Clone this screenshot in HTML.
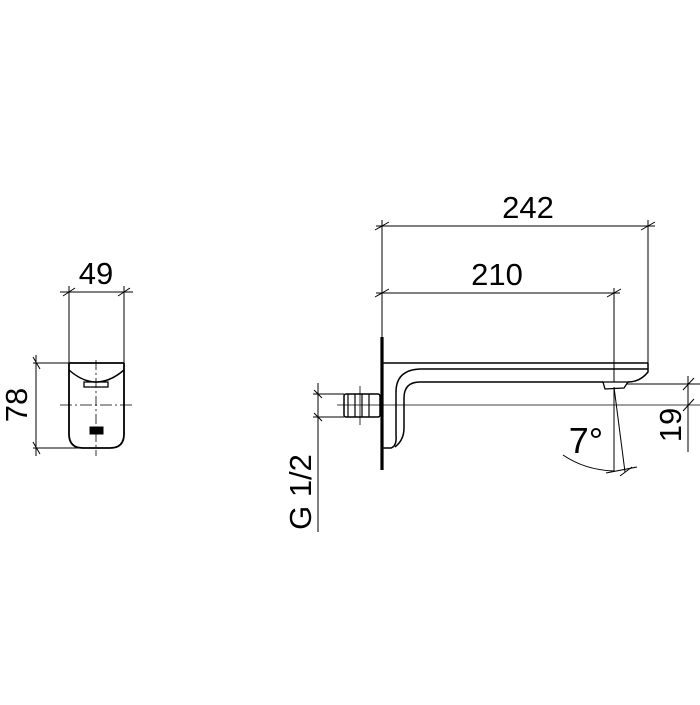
<!DOCTYPE html>
<html><head><style>body{margin:0;background:#fff}</style></head><body>
<svg width="700" height="700" viewBox="0 0 700 700" xmlns="http://www.w3.org/2000/svg" font-family="Liberation Sans, sans-serif">
<g stroke="#000" fill="none" stroke-width="1">
<line x1="60" y1="292" x2="133" y2="292"/>
<line x1="69" y1="286" x2="69" y2="363"/>
<line x1="124" y1="286" x2="124" y2="363"/>
<line x1="63" y1="296" x2="75" y2="288"/><line x1="118" y1="296" x2="130" y2="288"/>
<line x1="33" y1="363" x2="124" y2="363"/>
<line x1="33" y1="448" x2="96" y2="448"/>
<line x1="36" y1="355" x2="36" y2="456"/>
<line x1="33" y1="357" x2="40" y2="369"/><line x1="33" y1="442" x2="40" y2="454"/>
<path d="M69 363 V434 Q69 448 83 448 H110 Q124 448 124 434 V363" stroke-width="1.8"/>
<path d="M69 370 Q96 394 124 370" stroke-width="1.5"/>
<line x1="69" y1="363" x2="124" y2="363" stroke-width="1.8"/>
<rect x="84" y="382" width="24" height="5" stroke-width="1.3"/>
<rect x="90" y="427" width="13" height="7" fill="#000"/>
<line x1="96" y1="360" x2="96" y2="456" stroke-dasharray="10 3 2 3" stroke-width="0.8"/>
<line x1="60" y1="405" x2="133" y2="405" stroke-dasharray="12 3 2 3" stroke-width="0.8"/>
<line x1="376" y1="226" x2="655" y2="226"/>
<line x1="382" y1="220" x2="382" y2="337"/>
<line x1="648" y1="220" x2="648" y2="363"/>
<line x1="375" y1="230" x2="389" y2="222"/><line x1="641" y1="230" x2="655" y2="222"/>
<line x1="376" y1="293" x2="620" y2="293"/>
<line x1="375" y1="297" x2="389" y2="289"/><line x1="607" y1="297" x2="621" y2="289"/>
<line x1="614" y1="288" x2="614" y2="472"/>
<line x1="382" y1="337" x2="382" y2="470" stroke-width="3.2"/>
<line x1="383" y1="363" x2="648" y2="363" stroke-width="1.5"/>
<path d="M648 363 V372 Q640 382 628 382" stroke-width="1.5"/>
<path d="M383 448 H391 Q397 446 396 435 V392 Q396 370 420 369 H648" stroke-width="1.5"/>
<path d="M395 447 Q404 440 404 428 V398 Q404 382 420 382 H603" stroke-width="1.5"/>
<path d="M603 382 L628 382 L624 388 L605 389 Z" stroke-width="1.3" fill="#fff"/>
<rect x="344" y="394" width="36" height="23" rx="2" stroke-width="1.5"/>
<line x1="348" y1="394" x2="348" y2="417" stroke-width="1.2"/>
<line x1="355" y1="394" x2="355" y2="417" stroke-width="1.2"/>
<line x1="362" y1="394" x2="362" y2="417" stroke-width="1.2"/>
<line x1="369" y1="394" x2="369" y2="417" stroke-width="1.2"/>
<line x1="337" y1="405" x2="700" y2="405" stroke-width="0.8"/>
<line x1="360" y1="386" x2="360" y2="425" stroke-width="0.8"/>
<line x1="313" y1="394" x2="344" y2="394"/><line x1="313" y1="417" x2="344" y2="417"/>
<line x1="318" y1="383" x2="318" y2="532"/>
<line x1="314" y1="390" x2="322" y2="398"/><line x1="314" y1="413" x2="322" y2="421"/>
<line x1="627" y1="384" x2="700" y2="384"/>
<line x1="688" y1="376" x2="688" y2="452"/>
<line x1="683" y1="390" x2="694" y2="378"/><line x1="683" y1="411" x2="694" y2="399"/>
<line x1="614" y1="387" x2="625" y2="472"/>
<path d="M563 455 Q585 470 614 471"/>
<line x1="606" y1="473" x2="637" y2="467"/>
<line x1="620" y1="476" x2="632" y2="467"/>
</g>
<g fill="#000" font-size="31">
<text x="96" y="284" text-anchor="middle">49</text>
<text x="528" y="218" text-anchor="middle">242</text>
<text x="497" y="285" text-anchor="middle">210</text>
<text transform="translate(27,405) rotate(-90)" text-anchor="middle">78</text>
<text transform="translate(311,492) rotate(-90)" text-anchor="middle">G 1/2</text>
<text transform="translate(681,425) rotate(-90)" text-anchor="middle">19</text>
<text x="586" y="453" text-anchor="middle" font-size="36">7°</text>
</g>
</svg>
</body></html>
